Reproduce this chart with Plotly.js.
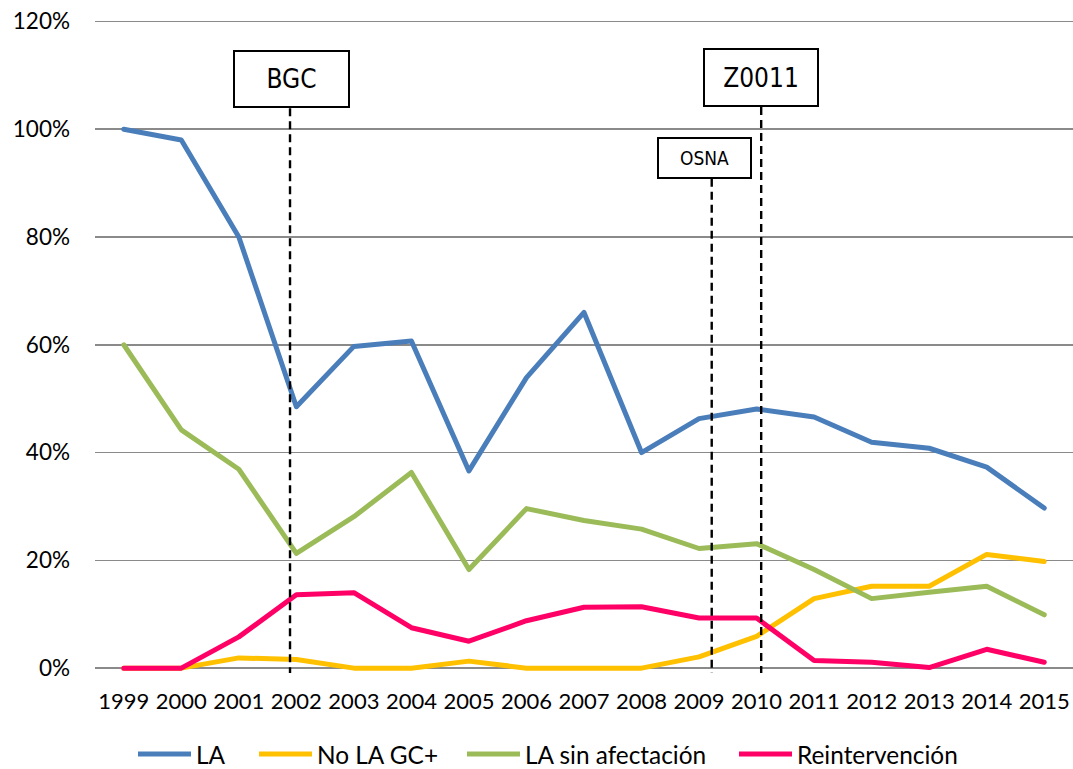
<!DOCTYPE html>
<html>
<head>
<meta charset="utf-8">
<script src="https://cdn.plot.ly/plotly-3.0.1.min.js"></script>
<style>
  html, body { margin: 0; padding: 0; background: #ffffff; }
  #chart { width: 1073px; height: 769px; }
  .scatterlayer .js-line { stroke-linejoin: round !important; stroke-linecap: round !important; }
</style>
</head>
<body>
<div id="chart"></div>
<script>
// Years on the horizontal axis
const years = ['1999', '2000', '2001', '2002', '2003', '2004', '2005', '2006', '2007',
               '2008', '2009', '2010', '2011', '2012', '2013', '2014', '2015'];

// Series names (legend text)
const seriesNames = ['LA', 'No LA GC+', 'LA sin afectación', 'Reintervención'];

// Percentages per year
const la              = [100, 98.0, 80.0, 48.5, 59.7, 60.7, 36.6, 53.9, 66.0, 40.0, 46.3, 48.1, 46.6, 41.9, 40.8, 37.3, 29.7];
const noLaGc          = [0, 0, 1.9, 1.6, 0, 0, 1.3, 0, 0, 0, 2.1, 5.9, 12.9, 15.2, 15.2, 21.1, 19.8];
const laSinAfectacion = [60.0, 44.2, 36.9, 21.3, 28.1, 36.3, 18.3, 29.6, 27.4, 25.8, 22.2, 23.1, 18.3, 12.9, 14.1, 15.2, 9.9];
const reintervencion  = [0, 0, 5.8, 13.6, 14.0, 7.5, 5.0, 8.8, 11.3, 11.4, 9.3, 9.3, 1.4, 1.1, 0.1, 3.5, 1.1];

// Milestones marked with a labelled box and a dashed line
const milestoneLabels = ['BGC', 'OSNA', 'Z0011'];
const milestoneYears  = ['2002', '2009', '2010'];

const seriesValues = [la, noLaGc, laSinAfectacion, reintervencion];
const seriesColors = ['#4a7ebb', '#ffc000', '#9bbb59', '#ff0066'];

const M = { l: 95, r: 0, t: 16, b: 96 };
const W = 1073, H = 769;
const plotW = W - M.l - M.r, plotH = H - M.t - M.b;
const px2x = px => (px - M.l) / plotW;
const px2y = py => (H - M.b - py) / plotH;

const FONT = 'Lato, "Open Sans", sans-serif';
const NARROW = '"DejaVu Sans Condensed", "Liberation Sans Narrow", "Liberation Sans", sans-serif';

const traces = seriesNames.map((name, i) => ({
  type: 'scatter',
  mode: 'lines',
  name: name,
  x: years,
  y: seriesValues[i],
  line: { color: seriesColors[i], width: 5 },
  showlegend: false,
  hoverinfo: 'x+y+name'
}));

// Milestone box / dashed-line placement
const milestoneStyle = {
  BGC:   { lineOff: -0.11, boxOff: -0.08, boxY: 109.4, lineTop: 103.9, w: 111, h: 52, size: 26 },
  OSNA:  { lineOff:  0.22, boxOff:  0.09, boxY: 94.7,  lineTop: 90.8,  w: 89,  h: 36, size: 19 },
  Z0011: { lineOff:  0.08, boxOff:  0.08, boxY: 109.6, lineTop: 104.1, w: 110, h: 53, size: 26 }
};

const shapes = [];
const annotations = [];

milestoneLabels.forEach((label, i) => {
  const st = milestoneStyle[label];
  const idx = years.indexOf(milestoneYears[i]);
  shapes.push({
    type: 'line', xref: 'x', yref: 'y', layer: 'above',
    x0: idx + st.lineOff, x1: idx + st.lineOff, y0: st.lineTop, y1: -0.9,
    line: { color: '#000000', width: 2.4, dash: '8px,5px' }
  });
  annotations.push({
    xref: 'x', yref: 'y', x: idx + st.boxOff, y: st.boxY,
    xanchor: 'center', yanchor: 'middle', showarrow: false,
    text: label, width: st.w, height: st.h,
    bgcolor: '#ffffff', bordercolor: '#000000', borderwidth: 2, borderpad: 1,
    font: { family: NARROW, size: st.size, color: '#000000' }
  });
});

// Legend row below the axis
const legendStarts = [138, 259, 467, 739];
const legendLineLen = 53;
const legendY = px2y(754);
seriesNames.forEach((name, i) => {
  const x0 = legendStarts[i];
  shapes.push({
    type: 'line', xref: 'paper', yref: 'paper',
    x0: px2x(x0), x1: px2x(x0 + legendLineLen), y0: legendY, y1: legendY,
    line: { color: seriesColors[i], width: 5 }
  });
  annotations.push({
    xref: 'paper', yref: 'paper', x: px2x(x0 + legendLineLen + 3), y: legendY,
    xanchor: 'left', yanchor: 'middle', showarrow: false,
    text: name, font: { family: FONT, size: 24.4, color: '#000000' }
  });
});

const layout = {
  width: W, height: H,
  margin: M,
  paper_bgcolor: '#ffffff',
  plot_bgcolor: '#ffffff',
  showlegend: false,
  font: { family: FONT, color: '#000000' },
  xaxis: {
    type: 'category',
    categoryorder: 'array',
    categoryarray: years,
    range: [-0.5, years.length - 0.5],
    showgrid: false, zeroline: false, showline: false, ticks: '',
    ticklabelstandoff: 13,
    tickfont: { family: FONT, size: 22, color: '#000000' }
  },
  yaxis: {
    range: [-0.9, 121],
    tickvals: [0, 20, 40, 60, 80, 100, 120],
    ticktext: ['0%', '20%', '40%', '60%', '80%', '100%', '120%'],
    showgrid: true, gridcolor: '#8a8a8a', gridwidth: 1.6,
    zeroline: false, showline: false, ticks: '',
    ticklabelstandoff: 24,
    tickfont: { family: FONT, size: 22.5, color: '#000000' }
  },
  shapes: shapes,
  annotations: annotations
};

Plotly.newPlot('chart', traces, layout, { displayModeBar: false, staticPlot: true });
</script>
</body>
</html>
